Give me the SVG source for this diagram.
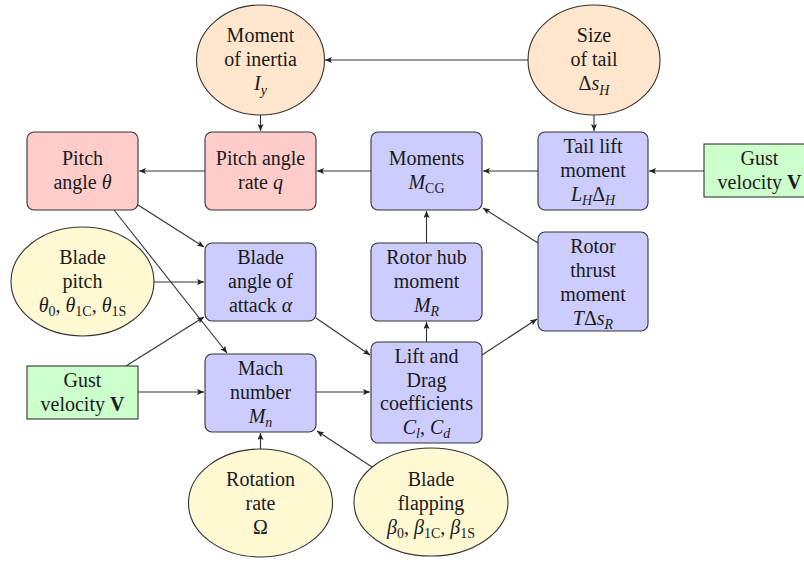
<svg xmlns="http://www.w3.org/2000/svg" width="804" height="563" viewBox="0 0 804 563">
<style>
text{font-family:'Liberation Serif',Tinos,'Times New Roman',Times,'Nimbus Roman','Noto Serif','DejaVu Serif',FreeSerif,serif;font-size:20px;fill:#1a1a1a;text-anchor:middle}
.i{font-style:italic}
.s{font-size:14px;font-style:normal}
.si{font-size:14px;font-style:italic}
.b{font-weight:bold}
.red{fill:#ffcccc;stroke:#333;stroke-width:1.1}
.blue{fill:#ccccff;stroke:#333;stroke-width:1.1}
.green{fill:#ccffcc;stroke:#333;stroke-width:1.1}
.orange{fill:#ffe6cc;stroke:#333;stroke-width:1.1}
.yellow{fill:#fff9d4;stroke:#333;stroke-width:1.1}
.c line{stroke:#333;stroke-width:1.1;marker-end:url(#ah)}
</style>
<defs>
<marker id="ah" markerUnits="userSpaceOnUse" markerWidth="8" markerHeight="6" refX="7" refY="3" orient="auto">
<path d="M0,0 L7,3 L0,6 L1.5,3 z" fill="#222"/>
</marker>
</defs>
<rect width="804" height="563" fill="#fff"/>
<g class="c" id="connectors">
<line x1="528" y1="60" x2="325" y2="60"/>
<line x1="260.5" y1="115" x2="260.5" y2="131"/>
<line x1="594" y1="115" x2="594" y2="131"/>
<line x1="205" y1="171" x2="139" y2="171"/>
<line x1="371" y1="171" x2="317" y2="171"/>
<line x1="538" y1="171" x2="483" y2="171"/>
<line x1="704" y1="171" x2="649" y2="171"/>
<line x1="138" y1="205" x2="204" y2="247"/>
<line x1="114" y1="210" x2="227" y2="353"/>
<line x1="154" y1="282" x2="204" y2="282"/>
<line x1="126" y1="366" x2="204" y2="317"/>
<line x1="138" y1="392" x2="204" y2="392"/>
<line x1="316" y1="318" x2="370" y2="355"/>
<line x1="316" y1="392" x2="370" y2="392"/>
<line x1="426.5" y1="342" x2="426.5" y2="322"/>
<line x1="426.5" y1="243" x2="426.5" y2="211"/>
<line x1="482" y1="355" x2="537" y2="319"/>
<line x1="538" y1="243" x2="483" y2="208"/>
<line x1="260.5" y1="449" x2="260.5" y2="433"/>
<line x1="372" y1="467" x2="317" y2="431"/>
</g>
<g id="moment-of-inertia">
<ellipse class="orange" cx="260.5" cy="60" rx="64" ry="55"/>
<text x="260.5" y="42">Moment</text>
<text x="260.5" y="66">of inertia</text>
<text x="260.5" y="90"><tspan class="i">I</tspan><tspan class="si" baseline-shift="-5">y</tspan></text>
</g>
<g id="size-of-tail">
<ellipse class="orange" cx="594" cy="60" rx="66" ry="55"/>
<text x="594" y="42">Size</text>
<text x="594" y="66">of tail</text>
<text x="594" y="90">Δ<tspan class="i">s</tspan><tspan class="si" baseline-shift="-5">H</tspan></text>
</g>
<g id="pitch-angle">
<rect class="red" x="27" y="132" width="111" height="78" rx="7"/>
<text x="82.5" y="165">Pitch</text>
<text x="82.5" y="189">angle <tspan class="i">θ</tspan></text>
</g>
<g id="pitch-angle-rate">
<rect class="red" x="205" y="132" width="111" height="78" rx="7"/>
<text x="260.5" y="165">Pitch angle</text>
<text x="260.5" y="189">rate <tspan class="i">q</tspan></text>
</g>
<g id="moments">
<rect class="blue" x="371" y="132" width="111" height="78" rx="7"/>
<text x="426.5" y="165">Moments</text>
<text x="426.5" y="189"><tspan class="i">M</tspan><tspan class="s" baseline-shift="-4">CG</tspan></text>
</g>
<g id="tail-lift-moment">
<rect class="blue" x="538" y="132" width="110" height="78" rx="7"/>
<text x="593" y="153">Tail lift</text>
<text x="593" y="177">moment</text>
<text x="593" y="201"><tspan class="i">L</tspan><tspan class="si" baseline-shift="-4">H</tspan>Δ<tspan class="si" baseline-shift="-4">H</tspan></text>
</g>
<g id="gust-velocity-right">
<rect class="green" x="704" y="144" width="111" height="53"/>
<text x="759.5" y="165">Gust</text>
<text x="759.5" y="189">velocity <tspan class="b">V</tspan></text>
</g>
<g id="blade-pitch">
<ellipse class="yellow" cx="82.5" cy="281.5" rx="71.5" ry="54.5"/>
<text x="82.5" y="264">Blade</text>
<text x="82.5" y="288">pitch</text>
<text x="82.5" y="312"><tspan class="i">θ</tspan><tspan class="s" baseline-shift="-4">0</tspan>, <tspan class="i">θ</tspan><tspan class="s" baseline-shift="-4">1C</tspan>, <tspan class="i">θ</tspan><tspan class="s" baseline-shift="-4">1S</tspan></text>
</g>
<g id="blade-angle-of-attack">
<rect class="blue" x="205" y="243" width="111" height="78" rx="7"/>
<text x="260.5" y="264">Blade</text>
<text x="260.5" y="288">angle of</text>
<text x="260.5" y="312">attack <tspan class="i">α</tspan></text>
</g>
<g id="rotor-hub-moment">
<rect class="blue" x="371" y="243" width="111" height="78" rx="7"/>
<text x="426.5" y="264">Rotor hub</text>
<text x="426.5" y="288">moment</text>
<text x="426.5" y="312"><tspan class="i">M</tspan><tspan class="si" baseline-shift="-4">R</tspan></text>
</g>
<g id="rotor-thrust-moment">
<rect class="blue" x="538" y="232" width="110" height="99" rx="7"/>
<text x="593" y="252.5">Rotor</text>
<text x="593" y="276.5">thrust</text>
<text x="593" y="300.5">moment</text>
<text x="593" y="324.5"><tspan class="i">T</tspan>Δ<tspan class="i">s</tspan><tspan class="si" baseline-shift="-4">R</tspan></text>
</g>
<g id="gust-velocity-left">
<rect class="green" x="27" y="366" width="111" height="53"/>
<text x="82.5" y="387">Gust</text>
<text x="82.5" y="411">velocity <tspan class="b">V</tspan></text>
</g>
<g id="mach-number">
<rect class="blue" x="205" y="354" width="111" height="78" rx="7"/>
<text x="260.5" y="375">Mach</text>
<text x="260.5" y="399">number</text>
<text x="260.5" y="423"><tspan class="i">M</tspan><tspan class="si" baseline-shift="-4">n</tspan></text>
</g>
<g id="lift-and-drag">
<rect class="blue" x="371" y="342" width="111" height="101" rx="7"/>
<text x="426.5" y="363">Lift and</text>
<text x="426.5" y="387">Drag</text>
<text x="426.5" y="410">coefficients</text>
<text x="426.5" y="434"><tspan class="i">C</tspan><tspan class="si" baseline-shift="-4">l</tspan>, <tspan class="i">C</tspan><tspan class="si" baseline-shift="-4">d</tspan></text>
</g>
<g id="rotation-rate">
<ellipse class="yellow" cx="260.5" cy="503" rx="72" ry="54"/>
<text x="260.5" y="486">Rotation</text>
<text x="260.5" y="510">rate</text>
<text x="260.5" y="534">Ω</text>
</g>
<g id="blade-flapping">
<ellipse class="yellow" cx="431" cy="502" rx="77" ry="54"/>
<text x="431" y="486">Blade</text>
<text x="431" y="510">flapping</text>
<text x="431" y="534"><tspan class="i">β</tspan><tspan class="s" baseline-shift="-4">0</tspan>, <tspan class="i">β</tspan><tspan class="s" baseline-shift="-4">1C</tspan>, <tspan class="i">β</tspan><tspan class="s" baseline-shift="-4">1S</tspan></text>
</g>
</svg>
